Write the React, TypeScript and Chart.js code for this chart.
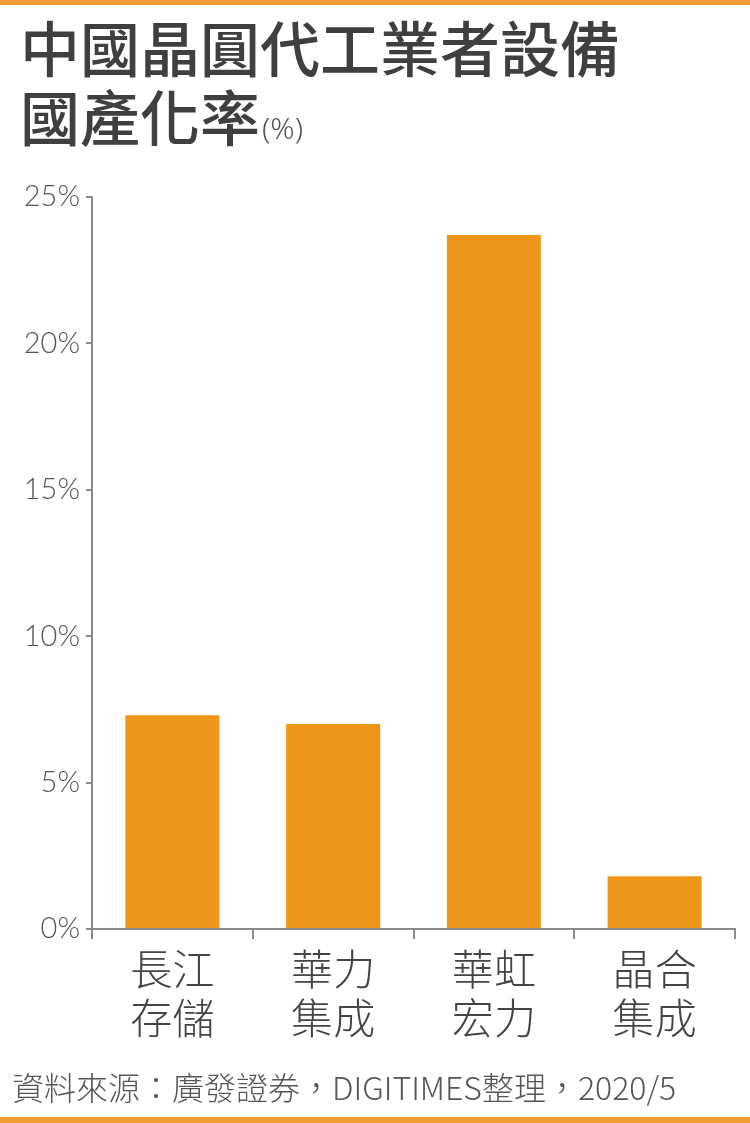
import React, { useEffect, useRef } from "react";
import { Chart, registerables } from "chart.js";

Chart.register(...registerables);

const categories: string[][] = [
  ["長江", "存儲"],
  ["華力", "集成"],
  ["華虹", "宏力"],
  ["晶合", "集成"],
];
const values: number[] = [7.3, 7.0, 23.7, 1.8];
const yTicks: number[] = [0, 5, 10, 15, 20, 25];
const titleLine1 = "中國晶圓代工業者設備";
const titleLine2 = "國產化率";
const titleUnit = "(%)";
const sourceText = "資料來源：廣發證券，DIGITIMES整理，2020/5";

const W = 750;
const H = 1123;
const ORANGE = "#F39B33";
const BAR = "#EE9619";

const decorPlugin = {
  id: "decor",
  beforeDraw(chart: any) {
    const ctx = chart.ctx;
    ctx.save();
    ctx.fillStyle = "#ffffff";
    ctx.fillRect(0, 0, W, H);
    ctx.fillStyle = ORANGE;
    ctx.fillRect(0, 0, W, 5);
    ctx.fillRect(0, H - 6, W, 6);
    ctx.restore();
  },
  afterDraw(chart: any) {
    const ctx = chart.ctx;
    ctx.save();
    ctx.fillStyle = "#3f3f3f";
    ctx.textBaseline = "middle";
    ctx.textAlign = "left";
    ctx.font = "500 60px 'Noto Sans CJK TC'";
    ctx.fillText(titleLine1, 20, 49);
    ctx.fillText(titleLine2, 20, 118);
    const w2 = ctx.measureText(titleLine2).width;
    ctx.font = "300 30px 'Noto Sans'";
    ctx.fillStyle = "#555555";
    ctx.fillText(titleUnit, 20 + w2 + 2, 130);
    ctx.font = "300 32px 'Noto Sans CJK TC'";
    ctx.fillStyle = "#555555";
    ctx.fillText(sourceText, 12, 1088);
    ctx.restore();
  },
};

export default function App() {
  const ref = useRef<HTMLCanvasElement | null>(null);
  useEffect(() => {
    if (!ref.current) return;
    const chart = new Chart(ref.current, {
      type: "bar",
      data: {
        labels: categories,
        datasets: [
          {
            data: values,
            backgroundColor: BAR,
            categoryPercentage: 1,
            barPercentage: 0.585,
          },
        ],
      },
      options: {
        animation: false,
        responsive: false,
        devicePixelRatio: 1,
        layout: { padding: { top: 197, right: 15, left: 0, bottom: 0 } },
        plugins: { legend: { display: false }, tooltip: { enabled: false } },
        scales: {
          x: {
            afterFit: (s: any) => {
              s.height = H - 929;
            },
            grid: {
              offset: true,
              drawOnChartArea: false,
              drawTicks: true,
              tickLength: 10,
              color: "#8a8a8a",
              lineWidth: 2,
            },
            border: { color: "#8a8a8a", width: 2 },
            ticks: {
              color: "#444444",
              padding: 5,
              font: { family: "'Noto Sans CJK TC'", size: 42, weight: 300, lineHeight: 1.17 },
              maxRotation: 0,
            },
          },
          y: {
            min: 0,
            max: 25,
            afterFit: (s: any) => {
              s.width = 92;
            },
            afterBuildTicks: (s: any) => {
              s.ticks = yTicks.map((v) => ({ value: v }));
            },
            grid: {
              drawOnChartArea: false,
              drawTicks: true,
              tickLength: 6,
              color: "#8a8a8a",
              lineWidth: 2,
            },
            border: { color: "#8a8a8a", width: 2 },
            ticks: {
              color: "#555555",
              padding: 6,
              font: { family: "Lato", size: 29, weight: 300 },
              callback: (v: any) => `${v}%`,
            },
          },
        },
      },
      plugins: [decorPlugin],
    });
    return () => chart.destroy();
  }, []);
  return (
    <div style={{ position: "fixed", left: 0, top: 0, width: W, height: H, background: "#fff" }}>
      <canvas ref={ref} width={W} height={H} style={{ width: W, height: H, display: "block" }} />
    </div>
  );
}
